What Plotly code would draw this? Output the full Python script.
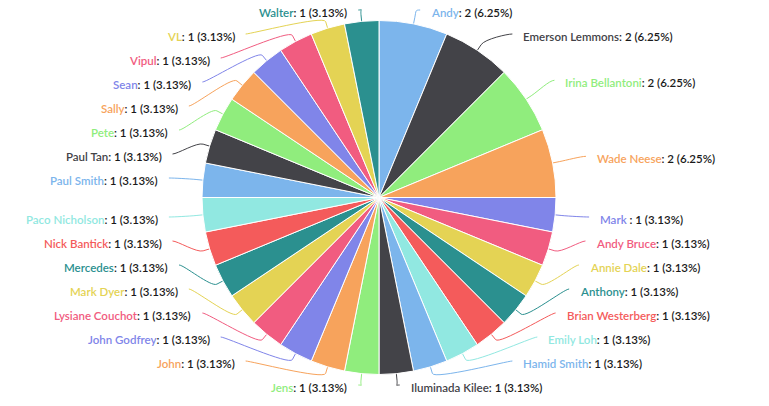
import math
from decimal import Decimal, ROUND_HALF_UP
import plotly.graph_objects as go

# ---- data ----
names = ["Andy", "Emerson Lemmons", "Irina Bellantoni", "Wade Neese", "Mark ",
         "Andy Bruce", "Annie Dale", "Anthony", "Brian Westerberg", "Emily Loh",
         "Hamid Smith", "Iluminada Kilee", "Jens", "John", "John Godfrey",
         "Lysiane Couchot", "Mark Dyer", "Mercedes", "Nick Bantick", "Paco Nicholson",
         "Paul Smith", "Paul Tan", "Pete", "Sally", "Sean", "Vipul", "VL", "Walter"]
values = [2, 2, 2, 2, 1, 1, 1, 1, 1, 1, 1, 1, 1, 1, 1, 1, 1, 1, 1, 1,
          1, 1, 1, 1, 1, 1, 1, 1]
palette = ["#7cb5ec", "#434348", "#90ed7d", "#f7a35c", "#8085e9",
           "#f15c80", "#e4d354", "#2b908f", "#f45b5b", "#91e8e1"]
colors = [palette[i % len(palette)] for i in range(len(names))]

# ---- layout geometry (pixels) ----
W, H = 769, 406
CX, CY, R = 379.0, 197.5, 177.0
LABEL_DIST = 34.0
BREAK_OFF = LABEL_DIST / 5
SLOT = 24.0
YMIN, YMAX = 10.0, 385.0
GAP = 11.0

total = sum(values)
cum = 0.0
pts = []
for i, v in enumerate(values):
    a = 2 * math.pi * (cum + v / 2) / total
    cum += v
    s, c = math.sin(a), math.cos(a)
    RL = R + LABEL_DIST
    pts.append(dict(i=i, a=a, s=s, c=c,
                    nx=CX + RL * s, ny=CY - RL * c,
                    left=s < 0))

def distribute(side):
    side = sorted(side, key=lambda p: p["ny"])
    ys = [min(max(p["ny"], YMIN), YMAX) for p in side]
    for k in range(1, len(ys)):
        ys[k] = max(ys[k], ys[k - 1] + SLOT)
    ys[-1] = min(ys[-1], YMAX)
    for k in range(len(ys) - 2, -1, -1):
        ys[k] = min(ys[k], ys[k + 1] - SLOT)
    for p, y in zip(side, ys):
        p["y"] = y

distribute([p for p in pts if not p["left"]])
distribute([p for p in pts if p["left"]])

RL = R + LABEL_DIST
for p in pts:
    yy = p["ny"] if (p["y"] <= YMIN + 2 or p["y"] >= YMAX - 2) else p["y"]
    dx = math.sqrt(max(RL * RL - (yy - CY) ** 2, 0))
    p["x"] = CX - dx if p["left"] else CX + dx

fig = go.Figure()
fig.add_trace(go.Pie(
    labels=names, values=values, sort=False, direction="clockwise", rotation=0,
    marker=dict(colors=colors, line=dict(color="#ffffff", width=1)),
    textinfo="none", hoverinfo="label+value+percent", showlegend=False,
    domain=dict(x=[(CX - R) / W, (CX + R) / W], y=[1 - (CY + R) / H, 1 - (CY - R) / H]),
))

shapes = []
annotations = []
for p in pts:
    i = p["i"]
    col = colors[i]
    tx, ty = CX + R * p["s"], CY - R * p["c"]
    bx, by = CX + (R + BREAK_OFF) * p["s"], CY - (R + BREAK_OFF) * p["c"]
    lx, ly = p["x"], p["y"]
    c1x = lx + (5 if p["left"] else -5)
    c2x, c2y = 2 * bx - tx, 2 * by - ty
    path = (f"M {lx:.2f} {ly:.2f} C {c1x:.2f} {ly:.2f} {c2x:.2f} {c2y:.2f} {bx:.2f} {by:.2f} "
            f"L {tx:.2f} {ty:.2f}")
    shapes.append(dict(type="path", xref="x", yref="y", path=path,
                       line=dict(color=col, width=1), layer="below"))
    pct = Decimal(100 * values[i]) / Decimal(total)
    pct_s = str(pct.quantize(Decimal("0.01"), rounding=ROUND_HALF_UP))
    txt = f'<span style="color:{col}">{names[i]}</span>: {values[i]} ({pct_s}%)'
    annotations.append(dict(
        x=lx - GAP if p["left"] else lx + GAP, y=ly + 2, xref="x", yref="y",
        text=txt, showarrow=False, xanchor="right" if p["left"] else "left",
        yanchor="middle", borderpad=0, borderwidth=0,
        font=dict(family="Lato, sans-serif", size=11.5, color="#1a1a1a", weight=600),
    ))

fig.update_layout(
    width=W, height=H, margin=dict(l=0, r=0, t=0, b=0),
    paper_bgcolor="#ffffff", plot_bgcolor="rgba(0,0,0,0)",
    xaxis=dict(range=[0, W], visible=False, fixedrange=True),
    yaxis=dict(range=[H, 0], visible=False, fixedrange=True),
    shapes=shapes, annotations=annotations, showlegend=False,
)
fig.write_html("out.html")
